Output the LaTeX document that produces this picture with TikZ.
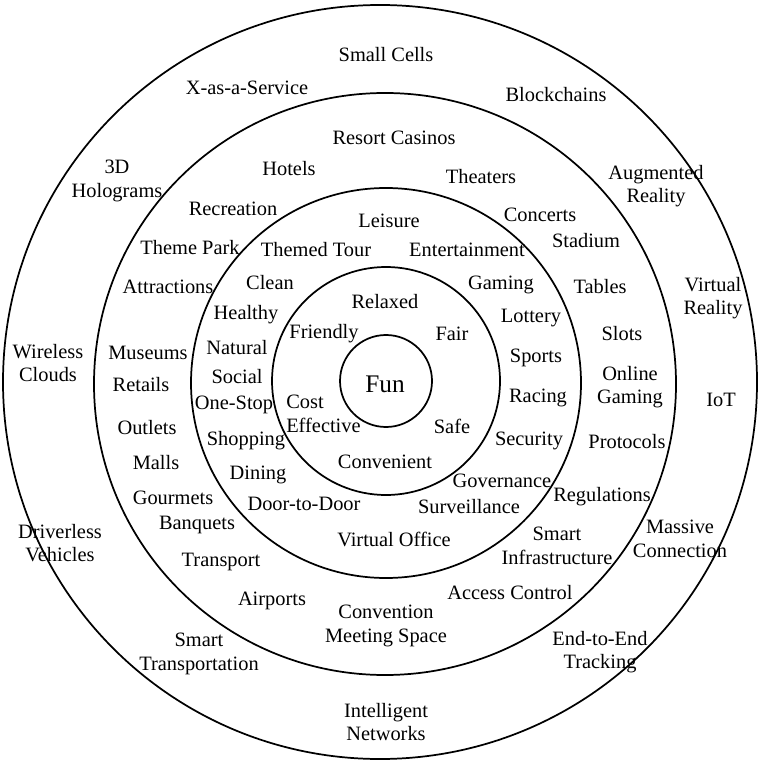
\documentclass[tikz,border=0pt]{standalone}
\usepackage{fontspec}
\setmainfont{Liberation Serif}
\begin{document}
\begin{tikzpicture}[x=0.75pt,y=-0.75pt,
  ring/.style={draw=black,line width=1.3pt},
  lbl/.style={inner sep=0pt,align=center,font=\fontsize{15.3}{17.5}\selectfont}]
\useasboundingbox (0,0) rectangle (762,762);
\fill[white] (0,0) rectangle (762,762);
% concentric rings
\draw[ring] (380,382) circle (377);
\draw[ring] (385,384) circle (291);
\draw[ring] (386,383) circle (195);
\draw[ring] (386,381) circle (114);
\draw[ring] (386,381) circle (46);
% centre
\node[lbl,font=\fontsize{19}{21}\selectfont] (fun) at (385,384) {Fun};
% first ring
\node[lbl] (relaxed) at (385,302) {Relaxed};
\node[lbl] (friendly) at (324,334) {Friendly};
\node[lbl] (fair) at (452,334) {Fair};
\node[lbl,align=left,anchor=west] (cost) at (286,414) {Cost\\Effective};
\node[lbl] (safe) at (452,426) {Safe};
\node[lbl] (convenient) at (385,462) {Convenient};
% second ring
\node[lbl] (leisure) at (389,221) {Leisure};
\node[lbl] (themedtour) at (316,250) {Themed Tour};
\node[lbl] (entertainment) at (467,250) {Entertainment};
\node[lbl] (clean) at (270,283) {Clean};
\node[lbl] (gaming) at (501,285) {Gaming};
\node[lbl] (healthy) at (246,315) {Healthy};
\node[lbl] (lottery) at (531,318) {Lottery};
\node[lbl] (natural) at (237,348) {Natural};
\node[lbl] (sports) at (536,358) {Sports};
\node[lbl] (social) at (237,377) {Social};
\node[lbl] (racing) at (538,398) {Racing};
\node[lbl] (onestop) at (234,405) {One-Stop};
\node[lbl] (shopping) at (246,441) {Shopping};
\node[lbl] (security) at (529,441) {Security};
\node[lbl] (dining) at (258,475) {Dining};
\node[lbl] (governance) at (502,481) {Governance};
\node[lbl] (doortodoor) at (304,504) {Door-to-Door};
\node[lbl] (surveillance) at (469,507) {Surveillance};
\node[lbl] (virtualoffice) at (394,539) {Virtual Office};
% third ring
\node[lbl] (resort) at (394,138) {Resort Casinos};
\node[lbl] (hotels) at (289,169) {Hotels};
\node[lbl] (theaters) at (481,177) {Theaters};
\node[lbl] (recreation) at (233,209) {Recreation};
\node[lbl] (concerts) at (540,215) {Concerts};
\node[lbl] (stadium) at (586,241) {Stadium};
\node[lbl] (themepark) at (190,248) {Theme Park};
\node[lbl] (attractions) at (168,287) {Attractions};
\node[lbl] (tables) at (600,287) {Tables};
\node[lbl] (slots) at (622,334) {Slots};
\node[lbl] (museums) at (148,353) {Museums};
\node[lbl] (retails) at (141,385) {Retails};
\node[lbl] (online) at (630,387) {Online\\Gaming};
\node[lbl] (outlets) at (147,428) {Outlets};
\node[lbl] (protocols) at (627,442) {Protocols};
\node[lbl] (malls) at (156,463) {Malls};
\node[lbl] (gourmets) at (173,498) {Gourmets};
\node[lbl] (regulations) at (602,497) {Regulations};
\node[lbl] (banquets) at (197,525) {Banquets};
\node[lbl] (smartinfra) at (557,546) {Smart\\Infrastructure};
\node[lbl] (transport) at (221,562) {Transport};
\node[lbl] (access) at (510,593) {Access Control};
\node[lbl] (airports) at (272,601) {Airports};
\node[lbl] (convention) at (386,626) {Convention\\Meeting Space};
% outer ring
\node[lbl] (smallcells) at (386,55) {Small Cells};
\node[lbl] (xaas) at (247,88) {X-as-a-Service};
\node[lbl] (blockchains) at (556,95) {Blockchains};
\node[lbl] (holograms) at (117,181) {3D\\Holograms};
\node[lbl] (augmented) at (656,186) {Augmented\\Reality};
\node[lbl] (virtual) at (713,298) {Virtual\\Reality};
\node[lbl] (wireless) at (48,363) {Wireless\\Clouds};
\node[lbl] (iot) at (721,400) {IoT};
\node[lbl] (driverless) at (60,543) {Driverless\\Vehicles};
\node[lbl] (massive) at (680,539) {Massive\\Connection};
\node[lbl] (smarttrans) at (199,654) {Smart\\Transportation};
\node[lbl] (endtoend) at (600,652) {End-to-End\\Tracking};
\node[lbl] (intelligent) at (386,722) {Intelligent\\Networks};
\end{tikzpicture}
\end{document}
